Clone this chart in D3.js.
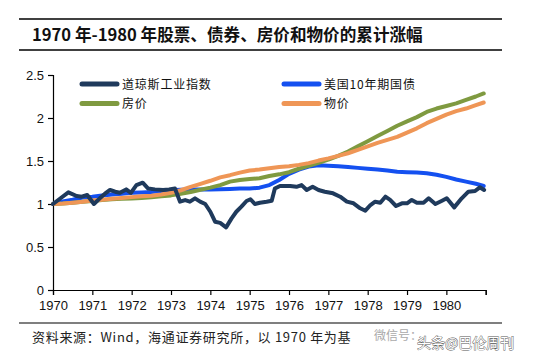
<!DOCTYPE html>
<html>
<head>
<meta charset="utf-8">
<script src="https://cdn.jsdelivr.net/npm/d3@7"></script>
<style>
  body { margin: 0; background: #fff; }
  svg { display: block; }
</style>
</head>
<body>
<svg id="chart" width="534" height="360"></svg>
<script>
// quarterly time points used by the three smooth series
const quarters = d3.range(0, 44).map(i => 1970 + i * 0.25).concat([1980.95])

// 美国10年期国债
const bondValues = [1.00, 1.03, 1.05, 1.075, 1.085, 1.10, 1.11, 1.12, 1.13, 1.135, 1.14, 1.15,
  1.16, 1.165, 1.17, 1.17, 1.17, 1.172, 1.175, 1.18, 1.18, 1.19, 1.22, 1.28,
  1.35, 1.40, 1.435, 1.45, 1.445, 1.44, 1.43, 1.42, 1.41, 1.40, 1.39, 1.375,
  1.37, 1.365, 1.357, 1.34, 1.315, 1.285, 1.26, 1.235, 1.21]

// 房价
const houseValues = [1.00, 1.005, 1.015, 1.025, 1.035, 1.045, 1.055, 1.06, 1.065, 1.07, 1.078, 1.09,
  1.10, 1.12, 1.14, 1.165, 1.19, 1.22, 1.26, 1.28, 1.29, 1.30, 1.325, 1.345,
  1.37, 1.41, 1.445, 1.48, 1.515, 1.56, 1.61, 1.67, 1.73, 1.79, 1.85, 1.91,
  1.96, 2.01, 2.07, 2.11, 2.14, 2.17, 2.21, 2.25, 2.285]

// 物价
const priceValues = [1.00, 1.005, 1.015, 1.025, 1.04, 1.05, 1.06, 1.07, 1.08, 1.09, 1.095, 1.11,
  1.13, 1.16, 1.20, 1.235, 1.27, 1.31, 1.335, 1.365, 1.39, 1.40, 1.415, 1.43,
  1.44, 1.455, 1.475, 1.505, 1.53, 1.56, 1.59, 1.63, 1.67, 1.71, 1.745, 1.78,
  1.83, 1.88, 1.94, 1.99, 2.04, 2.08, 2.11, 2.15, 2.18]

// 道琼斯工业指数 (irregular time points)
const dowTimes = [1970.0, 1970.2, 1970.39, 1970.6, 1970.73, 1970.87, 1971.04, 1971.19, 1971.32, 1971.45, 1971.58,
  1971.7, 1971.86, 1971.98, 1972.12, 1972.28, 1972.42, 1972.59, 1972.8, 1972.95, 1973.1, 1973.23,
  1973.36, 1973.48, 1973.61, 1973.74, 1973.87, 1974.0, 1974.12, 1974.25, 1974.4, 1974.54, 1974.66,
  1974.79, 1974.92, 1975.02, 1975.13, 1975.26, 1975.43, 1975.56, 1975.64, 1975.77, 1976.03, 1976.19,
  1976.32, 1976.45, 1976.6, 1976.75, 1976.91, 1977.12, 1977.3, 1977.47, 1977.64, 1977.81, 1977.94,
  1978.07, 1978.19, 1978.32, 1978.45, 1978.57, 1978.72, 1978.87, 1979.0, 1979.12, 1979.25, 1979.42,
  1979.55, 1979.72, 1979.89, 1980.01, 1980.2, 1980.39, 1980.56, 1980.73, 1980.85, 1980.96]
const dowValues = [1.00, 1.07, 1.136, 1.093, 1.085, 1.105, 1.00, 1.066, 1.12, 1.163, 1.143,
  1.13, 1.17, 1.13, 1.22, 1.248, 1.18, 1.17, 1.163, 1.17, 1.18, 1.027,
  1.046, 1.027, 1.066, 1.027, 1.00, 0.91, 0.794, 0.78, 0.728, 0.833, 0.91,
  0.97, 1.035, 1.055, 1.00, 1.015, 1.027, 1.038, 1.18, 1.21, 1.21, 1.20,
  1.22, 1.163, 1.20, 1.163, 1.143, 1.124, 1.085, 1.027, 1.008, 0.95, 0.922,
  0.988, 1.027, 1.015, 1.085, 1.047, 0.977, 1.008, 1.008, 1.047, 1.015, 1.015,
  1.066, 1.00, 1.038, 1.066, 0.961, 1.066, 1.143, 1.151, 1.194, 1.163]

const yearTicks = d3.range(1970, 1982)
const valueTicks = [0, 0.5, 1, 1.5, 2, 2.5]

const series = [
  {name: "美国10年期国债", times: quarters, values: bondValues, color: "#1450f0"},
  {name: "房价", times: quarters, values: houseValues, color: "#7f9a40"},
  {name: "物价", times: quarters, values: priceValues, color: "#ef9656"},
  {name: "道琼斯工业指数", times: dowTimes, values: dowValues, color: "#1f3a5c"}
]

const svg = d3.select("#chart")
const font = "'Liberation Sans', Arial, sans-serif"
const cjk = "'Noto Sans CJK SC', 'Noto Sans', sans-serif"

// title and rules
svg.append("line").attr("x1", 19).attr("x2", 502).attr("y1", 19).attr("y2", 19)
  .attr("stroke", "#000").attr("stroke-width", 1.5)
svg.append("line").attr("x1", 19).attr("x2", 502).attr("y1", 50).attr("y2", 50)
  .attr("stroke", "#000").attr("stroke-width", 1.5)
svg.append("text").attr("x", 32).attr("y", 41)
  .attr("font-family", cjk).attr("font-weight", "bold").attr("font-size", 16.6)
  .attr("fill", "#111")
  .text("1970 年-1980 年股票、债券、房价和物价的累计涨幅")

// scales
const x = d3.scaleLinear().domain([1970, 1981]).range([53, 485.7])
const y = d3.scaleLinear().domain([0, 2.5]).range([290, 75])

const xAxis = d3.axisBottom(x).tickValues(yearTicks).tickSize(5)
  .tickFormat(d => d < 1981 ? d : "")
const yAxis = d3.axisLeft(y).tickValues(valueTicks).tickSize(5)
  .tickFormat(d => d)

let gx = svg.append("g").attr("transform", "translate(0,290)").call(xAxis)
let gy = svg.append("g").attr("transform", "translate(53,0)").call(yAxis)
;[gx, gy].forEach(g => {
  g.select(".domain").attr("stroke", "#000").attr("stroke-width", 1.2)
  g.selectAll(".tick line").attr("stroke", "#000").attr("stroke-width", 1.2)
  g.selectAll("text").attr("font-family", font).attr("font-size", 13).attr("fill", "#111")
})
gx.selectAll("text").attr("dy", "0.95em")
gy.selectAll("text").attr("x", -9)

// lines
const line = d3.line()
  .x(d => x(d[0]))
  .y(d => y(d[1]))

series.forEach(s => {
  svg.append("path")
    .datum(s.times.map((t, i) => [t, s.values[i]]))
    .attr("fill", "none")
    .attr("stroke", s.color)
    .attr("stroke-width", 4)
    .attr("stroke-linejoin", "round")
    .attr("stroke-linecap", "round")
    .attr("d", line)
})

// legend
const legendItems = [
  {s: series[3], x: 80, y: 84},
  {s: series[1], x: 80, y: 103.5},
  {s: series[0], x: 282, y: 84},
  {s: series[2], x: 282, y: 103.5}
]
legendItems.forEach(l => {
  svg.append("line").attr("x1", l.x + 2).attr("x2", l.x + 37)
    .attr("y1", l.y).attr("y2", l.y)
    .attr("stroke", l.s.color).attr("stroke-width", 5).attr("stroke-linecap", "round")
  svg.append("text").attr("x", l.x + 42).attr("y", l.y + 4.5)
    .attr("font-family", cjk).attr("font-size", 12).attr("letter-spacing", 0.8)
    .attr("fill", "#111")
    .text(l.s.name)
})

// source note
svg.append("line").attr("x1", 19).attr("x2", 502).attr("y1", 323).attr("y2", 323)
  .attr("stroke", "#000").attr("stroke-width", 1.2)
svg.append("text").attr("x", 32).attr("y", 342)
  .attr("font-family", cjk).attr("font-size", 13).attr("letter-spacing", 0.7).attr("fill", "#222")
  .text("资料来源：Wind，海通证券研究所，以 1970 年为基")
svg.append("text").attr("x", 374).attr("y", 340)
  .attr("font-family", cjk).attr("font-size", 12).attr("fill", "#aaa")
  .text("微信号：")
svg.append("text").attr("x", 417).attr("y", 348)
  .attr("font-family", cjk).attr("font-size", 14).attr("fill", "#fff")
  .attr("stroke", "#555").attr("stroke-width", 0.8).attr("paint-order", "stroke")
  .text("头条@巴伦周刊")
</script>
</body>
</html>
